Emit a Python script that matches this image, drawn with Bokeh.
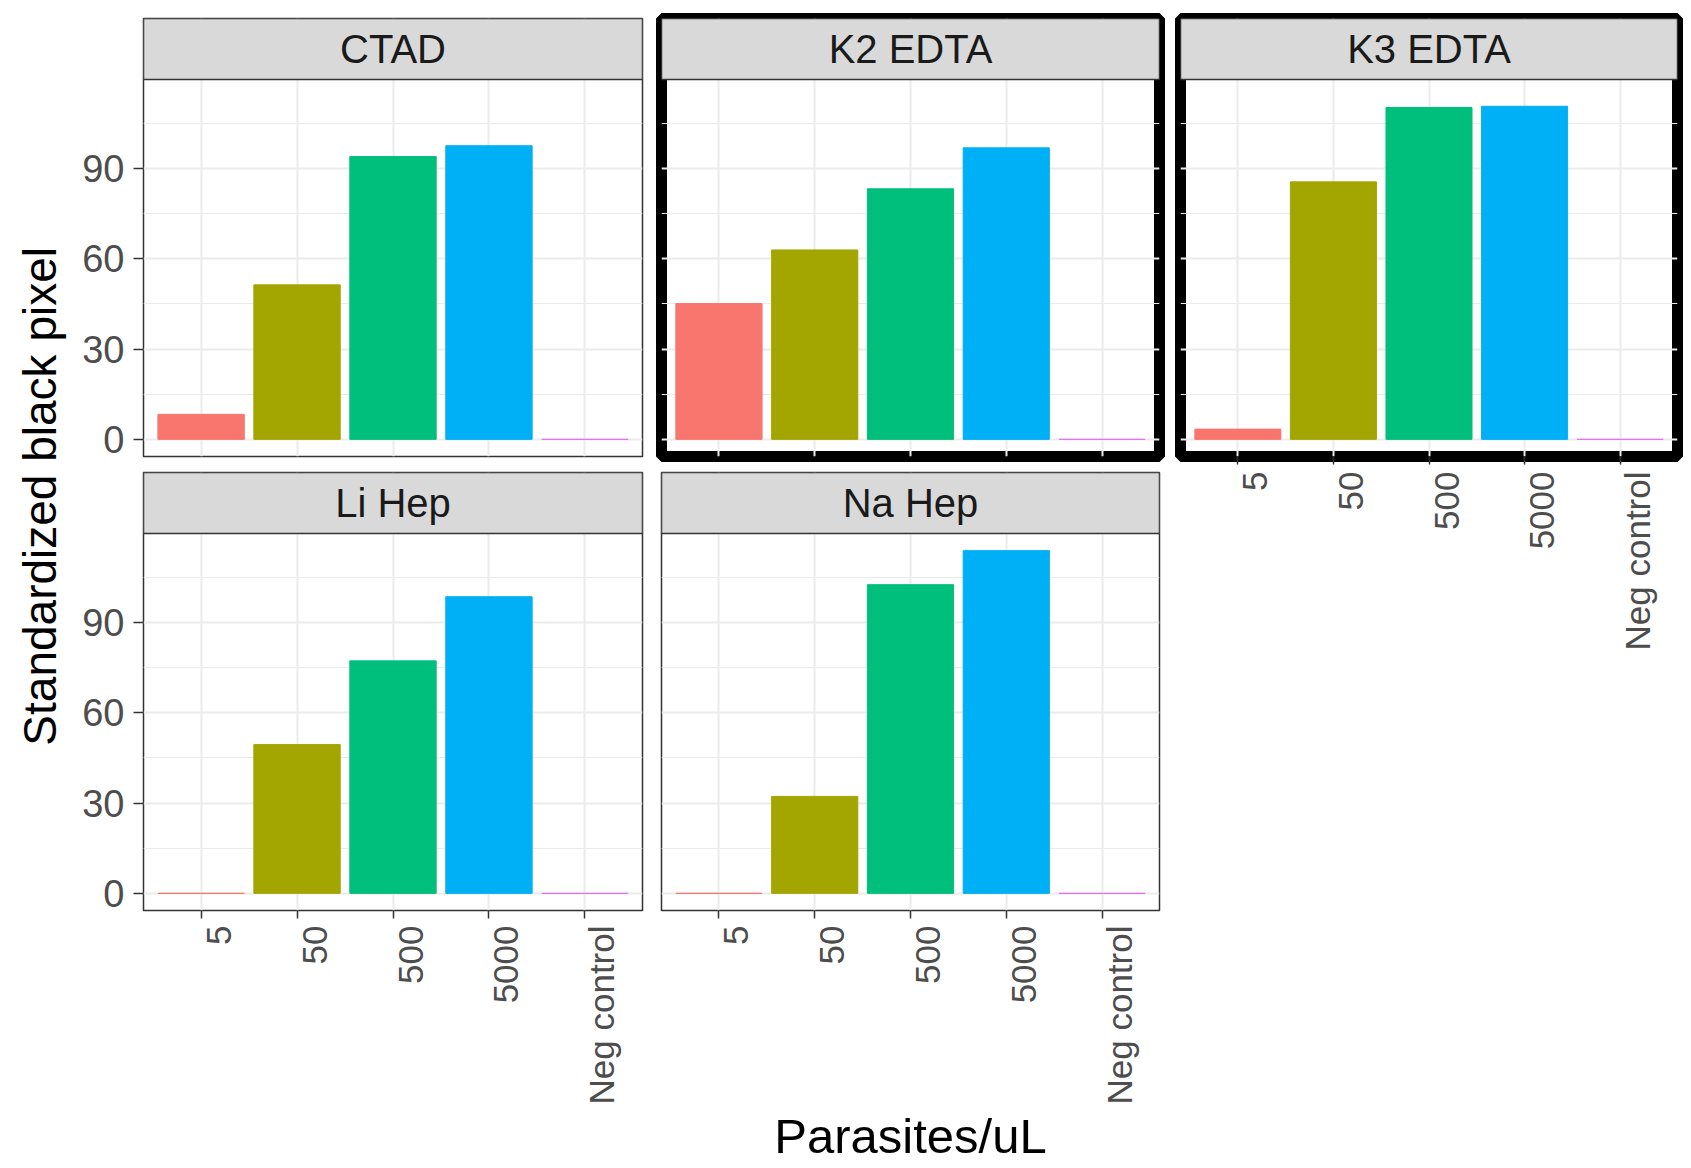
import math
from bokeh.plotting import figure
from bokeh.models import Range1d, FixedTicker, LinearAxis, Grid, ColumnDataSource
from bokeh.layouts import row, column
from bokeh.core.properties import value
from bokeh.embed import file_html
from bokeh.resources import INLINE

# ---------------- data ----------------
categories = ["5", "50", "500", "5000", "Neg control"]
panel_names = ["CTAD", "K2 EDTA", "K3 EDTA", "Li Hep", "Na Hep"]
ctad = [8.3, 51.3, 93.9, 97.5, 0.0]
k2_edta = [45.1, 62.9, 83.2, 96.8, 0.0]
k3_edta = [3.4, 85.5, 110.2, 110.6, 0.0]
li_hep = [0.0, 49.4, 77.2, 98.5, 0.0]
na_hep = [0.0, 32.2, 102.5, 113.8, 0.0]
bar_colors = ["#F8766D", "#A3A500", "#00BF7D", "#00B0F6", "#E76BF3"]
y_ticks = [0, 30, 60, 90]
y_minor = [15, 45, 75, 105]
x_title = "Parasites/uL"
y_title = "Standardized black pixel"
highlighted = ["K2 EDTA", "K3 EDTA"]

# ---------------- style / layout ----------------
FONT = "Liberation Sans"
FRAME_H = 438
STRIP_PX = 61
YMAX = max(max(ctad), max(k2_edta), max(k3_edta), max(li_hep), max(na_hep))
Y_LO = -0.05 * YMAX
Y_HI = 1.05 * YMAX
N = len(categories)
X_LO, X_HI = 1 - 0.6, N + 0.6
LABEL_SHIFT_PX = 17

YT_W = 78
TOP_PAD = 18
BOTTOM_AXIS_PX = 197


def make_panel(name, vals, mbl, frame_w, mbr, mbt, mbb, show_y, show_x):
    hi = name in highlighted
    panel_px = FRAME_H - STRIP_PX
    strip_top = Y_HI + (Y_HI - Y_LO) * STRIP_PX / panel_px
    p = figure(width=mbl + frame_w + mbr, height=mbt + FRAME_H + mbb,
               x_range=Range1d(X_LO, X_HI), y_range=Range1d(Y_LO, strip_top),
               toolbar_location=None, tools="", output_backend="svg",
               x_axis_location=None, y_axis_location=None,
               min_border_left=mbl, min_border_right=mbr,
               min_border_top=mbt, min_border_bottom=mbb)
    p.background_fill_color = "white"
    p.border_fill_color = "white"
    p.outline_line_color = "#000000" if hi else "#333333"
    p.outline_line_width = 11 if hi else 1.5
    p.center = [c for c in p.center if not isinstance(c, Grid)]
    xs = list(range(1, N + 1))
    p.add_layout(Grid(dimension=0, ticker=FixedTicker(ticks=xs, minor_ticks=[]),
                      grid_line_color="#ebebeb", grid_line_width=2))
    p.add_layout(Grid(dimension=1, ticker=FixedTicker(ticks=y_ticks, minor_ticks=y_minor),
                      grid_line_color="#ebebeb", grid_line_width=2,
                      minor_grid_line_color="#ebebeb", minor_grid_line_width=1.2))
    src = ColumnDataSource(dict(x=xs, top=vals, color=bar_colors, cat=categories))
    p.vbar(x="x", top="top", bottom=0, width=0.9, fill_color="color",
           line_color="color", line_width=1, source=src)
    p.quad(left=[X_LO], right=[X_HI], bottom=[Y_HI], top=[strip_top],
           fill_color="#d9d9d9", line_color="#333333", line_width=1.5)
    p.text(x=[(X_LO + X_HI) / 2], y=[(Y_HI + strip_top) / 2], text=[name],
           text_align="center", text_baseline="middle",
           text_font=value(FONT), text_font_size="40px", text_color="#1a1a1a")
    if show_y:
        ya = LinearAxis(ticker=FixedTicker(ticks=y_ticks, minor_ticks=[]))
        ya.axis_line_color = None
        ya.major_tick_out = 10
        ya.major_tick_in = 0
        ya.major_tick_line_color = "#333333"
        ya.major_tick_line_width = 1.5
        ya.major_label_standoff = 9
        ya.major_label_text_font = FONT
        ya.major_label_text_font_size = "38px"
        ya.major_label_text_color = "#4d4d4d"
        p.add_layout(ya, "left")
    if show_x:
        d = LABEL_SHIFT_PX / frame_w * (X_HI - X_LO)
        p.extra_x_ranges = {"lab": Range1d(X_LO - d, X_HI - d)}
        xa = LinearAxis(ticker=FixedTicker(ticks=xs, minor_ticks=[]))
        xa.axis_line_color = None
        xa.major_tick_out = 8
        xa.major_tick_in = 0
        xa.major_tick_line_color = "#333333"
        xa.major_tick_line_width = 1.5
        xa.major_label_text_font_size = "0px"
        xa.major_label_standoff = 0
        xa.major_label_overrides = {x: "" for x in xs}
        xb = LinearAxis(x_range_name="lab", ticker=FixedTicker(ticks=xs, minor_ticks=[]))
        xb.axis_line_color = None
        xb.major_tick_out = 0
        xb.major_tick_in = 0
        xb.major_label_standoff = 7
        xb.major_label_orientation = math.pi / 2
        xb.major_label_text_font = FONT
        xb.major_label_text_font_size = "35px"
        xb.major_label_text_color = "#4d4d4d"
        xb.major_label_overrides = {x: c for x, c in zip(xs, categories)}
        p.add_layout(xa, "below")
        p.add_layout(xb, "below")
    return p


p1 = make_panel(panel_names[0], ctad, 65, 499, 10, TOP_PAD, 8, True, False)
p2 = make_panel(panel_names[1], k2_edta, 9, 498, 10, TOP_PAD, 8, False, False)
p3 = make_panel(panel_names[2], k3_edta, 11, 497, 6, TOP_PAD, BOTTOM_AXIS_PX, False, True)
p4 = make_panel(panel_names[3], li_hep, 65, 499, 10, 8, BOTTOM_AXIS_PX, True, True)
p5 = make_panel(panel_names[4], na_hep, 9, 498, 10, 8, BOTTOM_AXIS_PX, False, True)

col1_h = p1.height + p4.height
total_w = YT_W + p1.width + p2.width + p3.width


def blank(w, h):
    f = figure(width=w, height=h, x_range=Range1d(0, w), y_range=Range1d(0, h),
               toolbar_location=None, tools="", output_backend="svg",
               x_axis_location=None, y_axis_location=None, min_border=0)
    f.outline_line_color = None
    f.background_fill_color = "white"
    f.border_fill_color = "white"
    f.center = [c for c in f.center if not isinstance(c, Grid)]
    return f


yt = blank(YT_W, col1_h)
yt.text(x=[39], y=[col1_h - 593], text=[y_title], angle=math.pi / 2,
        text_align="center", text_baseline="alphabetic",
        text_font=value(FONT), text_font_size="46px", text_color="#000000")

XT_H = 59
xt = blank(total_w, XT_H)
panels_left = YT_W + 65
panels_right = YT_W + p1.width + p2.width + 11 + 497
xt.text(x=[(panels_left + panels_right) / 2], y=[XT_H - 28], text=[x_title],
        text_align="center", text_baseline="alphabetic",
        text_font=value(FONT), text_font_size="49px", text_color="#000000")

layout = column(
    row(yt, column(p1, p4), column(p2, p5), p3),
    xt,
)

open("out.html", "w").write(file_html(layout, INLINE))
